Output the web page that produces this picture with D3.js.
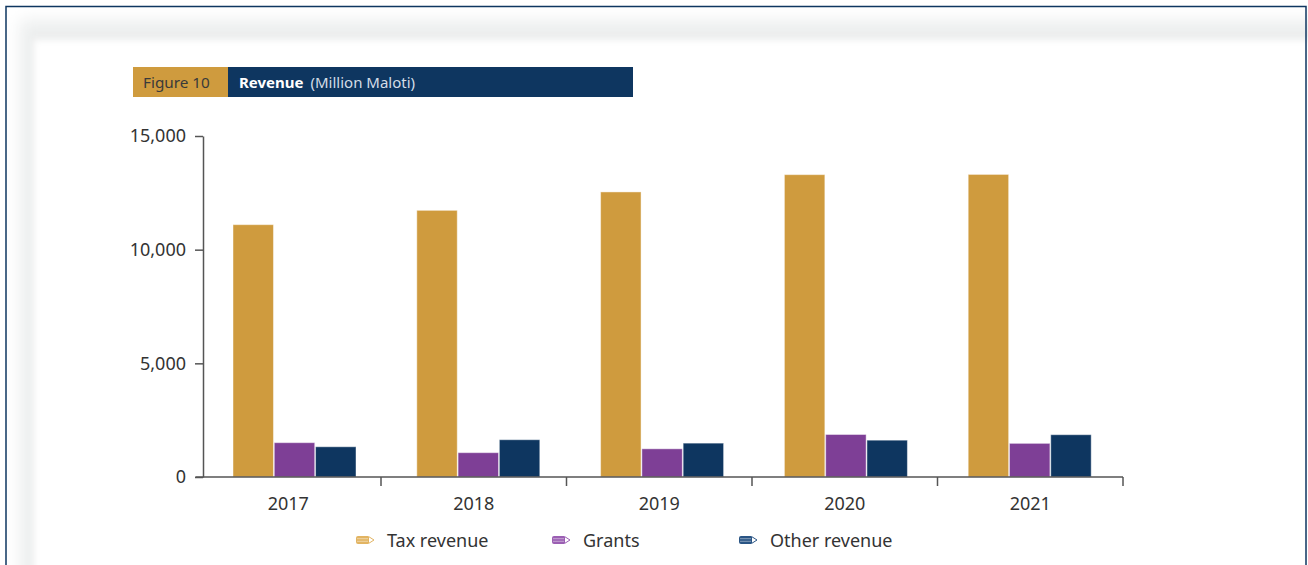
<!DOCTYPE html>
<html>
<head>
<meta charset="utf-8">
<script src="https://cdn.jsdelivr.net/npm/d3@7"></script>
<style>
  html, body { margin: 0; padding: 0; background: #ffffff; }
  svg { display: block; font-family: "Noto Sans", sans-serif; }
</style>
</head>
<body>
<svg id="chart" width="1308" height="565"></svg>
<script>
// ---- data ----
const years = ["2017", "2018", "2019", "2020", "2021"];
const seriesNames = ["Tax revenue", "Grants", "Other revenue"];
const taxRevenue = [11100, 11730, 12540, 13300, 13310];
const grants = [1510, 1070, 1240, 1870, 1480];
const otherRevenue = [1330, 1640, 1490, 1620, 1860];
const yTicks = [0, 5000, 10000, 15000];
const seriesColors = ["#CF9B3E", "#7E3F96", "#0E3660"];
const iconColors = ["#E2B462", "#9B5FB3", "#2A5585"];

const seriesValues = [taxRevenue, grants, otherRevenue];
const rows = years.map((yr, i) => ({
  year: yr,
  values: seriesNames.map((s, k) => ({ key: s, value: seriesValues[k][i], k }))
}));

const svg = d3.select("#chart");

// ---- frame / card with soft shadow ----
const defs = svg.append("defs");
const f = defs.append("filter").attr("id", "blur").attr("x", "-10%").attr("y", "-10%").attr("width", "120%").attr("height", "120%");
f.append("feGaussianBlur").attr("stdDeviation", 8);
const f2 = defs.append("filter").attr("id", "soft").attr("x", "-10%").attr("y", "-10%").attr("width", "120%").attr("height", "120%");
f2.append("feGaussianBlur").attr("stdDeviation", 3);
svg.append("rect").attr("x", 20).attr("y", 20).attr("width", 1400).attr("height", 700)
  .attr("fill", "#eceeee").attr("filter", "url(#blur)");
svg.append("rect").attr("x", 34).attr("y", 40).attr("width", 1400).attr("height", 700).attr("fill", "#ffffff")
  .attr("filter", "url(#soft)");
svg.append("rect").attr("x", 6).attr("y", 6.5).attr("width", 1300).attr("height", 600)
  .attr("fill", "none").attr("stroke", "#0E3660").attr("stroke-width", 1.5);

// ---- title bar ----
svg.append("rect").attr("x", 133).attr("y", 67).attr("width", 95).attr("height", 30).attr("fill", "#CF9B3E");
svg.append("rect").attr("x", 228).attr("y", 67).attr("width", 405).attr("height", 30).attr("fill", "#0E3660");
svg.append("text").attr("x", 143).attr("y", 87.5).attr("font-size", 15.3).attr("fill", "#3a3a3a").text("Figure 10");
const tt = svg.append("text").attr("x", 239).attr("y", 87.5).attr("font-size", 15);
tt.append("tspan").attr("font-weight", "bold").attr("fill", "#ffffff").text("Revenue");
tt.append("tspan").attr("dx", 7).attr("fill", "#d5dde6").text("(Million Maloti)");

// ---- scales ----
const x0 = d3.scaleBand().domain(years).range([203, 1122]).padding(0);       // bar groups
const xCat = d3.scaleBand().domain(years).range([195.5, 1123]).padding(0);   // axis ticks & labels
const x1 = d3.scaleBand().domain(seriesNames).range([30, 153]).paddingInner(0.02);
const y = d3.scaleLinear().domain([0, 15000]).range([477, 136]);

// ---- bars ----
const g = svg.append("g");
g.selectAll("g.grp").data(rows).join("g").attr("class", "grp")
  .attr("transform", d => `translate(${x0(d.year)},0)`)
  .selectAll("rect").data(d => d.values).join("rect")
  .attr("x", d => x1(d.key))
  .attr("y", d => y(d.value))
  .attr("width", x1.bandwidth())
  .attr("height", d => y(0) - y(d.value))
  .attr("fill", d => seriesColors[d.k])
  .attr("stroke", "rgba(255,255,255,0.45)")
  .attr("stroke-width", 1);

// ---- y axis ----
const yAxis = svg.append("g").attr("transform", "translate(203,0)")
  .call(d3.axisLeft(y).tickValues(yTicks).tickFormat(d3.format(",")).tickSize(8).tickSizeOuter(0).tickPadding(9));
yAxis.select(".domain").attr("stroke", "#555").attr("stroke-width", 1.5);
yAxis.selectAll(".tick line").attr("stroke", "#555").attr("stroke-width", 1.5);
yAxis.selectAll(".tick text").attr("font-size", 18).attr("fill", "#333").attr("font-family", "Noto Sans");

// ---- x axis ----
svg.append("line").attr("x1", xCat.range()[0]).attr("x2", xCat.range()[1]).attr("y1", 477).attr("y2", 477)
  .attr("stroke", "#555").attr("stroke-width", 1.5);
svg.append("g").selectAll("line").data(years).join("line")
  .attr("x1", d => xCat(d) + xCat.bandwidth()).attr("x2", d => xCat(d) + xCat.bandwidth())
  .attr("y1", 477).attr("y2", 486).attr("stroke", "#555").attr("stroke-width", 1.5);
const xAxis = svg.append("g").attr("transform", "translate(0,477)")
  .call(d3.axisBottom(xCat).tickSize(0).tickPadding(20));
xAxis.select(".domain").remove();
xAxis.selectAll(".tick text").attr("font-size", 18).attr("fill", "#333").attr("font-family", "Noto Sans");

// ---- legend ----
const legendX = [356, 552, 739];
const lg = svg.append("g").selectAll("g").data(seriesNames).join("g")
  .attr("transform", (d, i) => `translate(${legendX[i]},540)`);
lg.append("path")
  .attr("d", "M2,-4 L12,-4 L12,4 L2,4 Q0,4 0,2 L0,-2 Q0,-4 2,-4 Z")
  .attr("fill", (d, i) => iconColors[i]);
lg.append("path").attr("d", "M1,-1.3 L12,-1.3 M1,1.3 L12,1.3")
  .attr("stroke", "rgba(255,255,255,0.55)").attr("stroke-width", 0.8);
lg.append("path").attr("d", "M12.5,-3.5 L18,0 L12.5,3.5 Z")
  .attr("fill", "#fff").attr("stroke", (d, i) => iconColors[i]).attr("stroke-width", 1);
lg.append("text").attr("x", 31).attr("y", 6.5).attr("font-size", 18).attr("fill", "#333").text(d => d);
</script>
</body>
</html>
